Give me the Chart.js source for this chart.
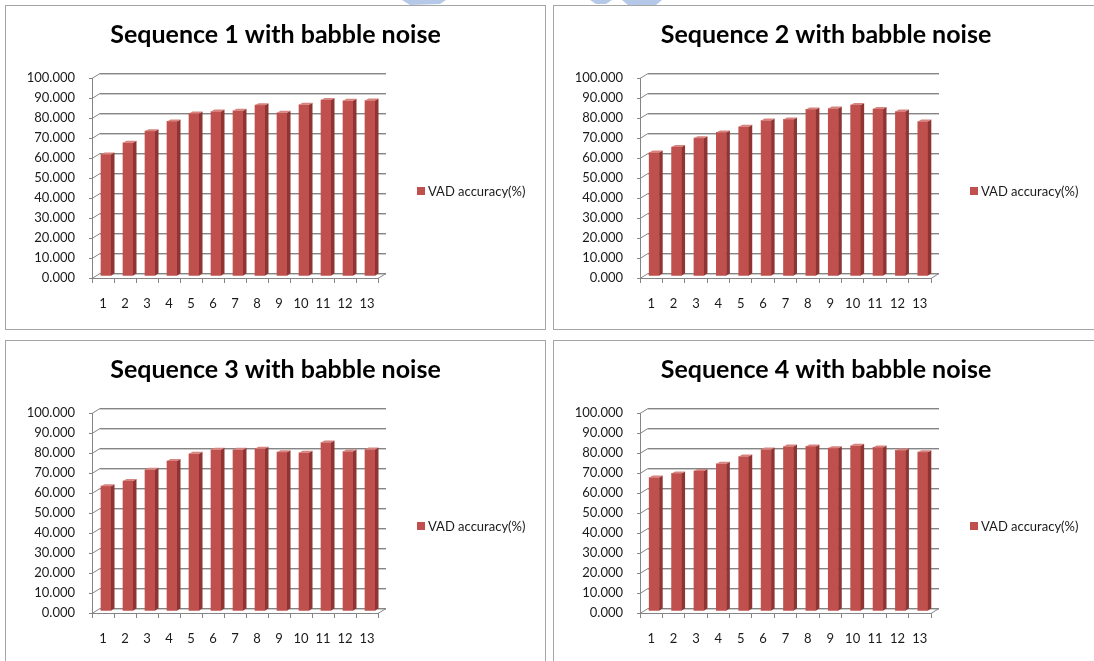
<!DOCTYPE html>
<html>
<head>
<meta charset="utf-8">
<script src="https://cdn.jsdelivr.net/npm/chart.js@4/dist/chart.umd.min.js"></script>
<style>
  html, body { margin: 0; padding: 0; background: #fff; }
  body { position: relative; width: 1094px; height: 661px; overflow: hidden; }
  .panel { position: absolute; box-sizing: border-box; border: 1px solid #a5a5a5; background: #fff; }
  .panel canvas { display: block; }
  .mark { position: absolute; top: 0; left: 0; }
</style>
</head>
<body>
<svg class="mark" width="1094" height="8">
  <polygon points="402,0 446,0 440,4 410,5" fill="#b6c8e8"/>
  <polygon points="590,0 612,0 606,4 596,4" fill="#b6c8e8"/>
  <polygon points="622,0 662,0 656,5 628,5" fill="#b6c8e8"/>
</svg>
<div class="panel" style="left:5px;top:5px;width:541px;height:325px"><canvas id="c1" width="539" height="323"></canvas></div>
<div class="panel" style="left:553px;top:5px;width:546px;height:325px"><canvas id="c2" width="544" height="323"></canvas></div>
<div class="panel" style="left:5px;top:340px;width:541px;height:325px"><canvas id="c3" width="539" height="323"></canvas></div>
<div class="panel" style="left:553px;top:340px;width:546px;height:325px"><canvas id="c4" width="544" height="323"></canvas></div>
<script>
// Frame index along the x axis
const categories = ['1', '2', '3', '4', '5', '6', '7', '8', '9', '10', '11', '12', '13'];

// VAD accuracy (%) per frame for each test sequence
const seq1 = [60.8, 66.6, 72.4, 77.3, 81.3, 82.2, 82.6, 85.4, 81.6, 85.6, 88.0, 87.6, 87.7];
const seq2 = [61.7, 64.5, 68.9, 71.8, 74.6, 77.7, 78.3, 83.3, 83.7, 85.5, 83.5, 82.2, 77.2];
const seq3 = [62.4, 65.0, 70.6, 75.0, 78.6, 80.6, 80.6, 81.1, 79.4, 79.1, 84.2, 79.7, 80.7];
const seq4 = [66.7, 68.8, 70.0, 73.6, 77.2, 80.7, 82.2, 82.3, 81.4, 82.6, 81.8, 80.3, 79.4];

const titles = [
  'Sequence 1 with babble noise',
  'Sequence 2 with babble noise',
  'Sequence 3 with babble noise',
  'Sequence 4 with babble noise'
];
const seriesLabel = 'VAD accuracy(%)';

const FRONT = '#c0504d';
const SIDE = '#8e3533';
const TOP = '#d7837f';
const GRID = '#858585';
const GRID_SOFT = '#cccccc';
const TEXT = '#1a1a1a';

// depth of the back wall and of each column
const DX = 8, DY = -5;
const SHIFT_X = 3, SHIFT_Y = -2;
const BX = 3.5, BY = -2;

// the title spans the whole panel, not only the area left of the legend
const fullTitle = {
  id: 'fullTitle',
  beforeDraw(chart) {
    if (chart.titleBlock) {
      chart.titleBlock.left = 0;
      chart.titleBlock.right = chart.width;
    }
  }
};

// back wall, side wall and floor lines, then the column side/top faces
const depthPlugin = {
  id: 'depth3d',
  beforeDatasetsDraw(chart) {
    const { ctx, chartArea: a, scales: { y } } = chart;
    ctx.save();
    ctx.lineWidth = 1;
    y.ticks.forEach(t => {
      const py = Math.round(y.getPixelForValue(t.value)) + 0.5;
      ctx.strokeStyle = GRID_SOFT;
      ctx.beginPath();
      ctx.moveTo(a.left + DX, py + DY + 1);
      ctx.lineTo(a.right + DX, py + DY + 1);
      ctx.stroke();
      ctx.strokeStyle = GRID;
      ctx.beginPath();
      ctx.moveTo(a.left, py);
      ctx.lineTo(a.left + DX, py + DY);
      ctx.lineTo(a.right + DX, py + DY);
      ctx.stroke();
    });
    const by = Math.round(y.getPixelForValue(0)) + 0.5;
    ctx.beginPath();
    ctx.moveTo(a.right, by);
    ctx.lineTo(a.right + DX, by + DY);
    ctx.stroke();
    ctx.restore();
    ctx.save();
    ctx.translate(SHIFT_X, SHIFT_Y);
  },
  afterDatasetsDraw(chart) {
    const ctx = chart.ctx;
    chart.getDatasetMeta(0).data.forEach(bar => {
      const { x, y, base, width } = bar.getProps(['x', 'y', 'base', 'width'], true);
      const l = x - width / 2, r = x + width / 2;
      ctx.fillStyle = SIDE;
      ctx.beginPath();
      ctx.moveTo(r, y);
      ctx.lineTo(r + BX, y + BY);
      ctx.lineTo(r + BX, base + BY);
      ctx.lineTo(r, base);
      ctx.closePath();
      ctx.fill();
      ctx.fillStyle = TOP;
      ctx.beginPath();
      ctx.moveTo(l, y);
      ctx.lineTo(l + BX, y + BY);
      ctx.lineTo(r + BX, y + BY);
      ctx.lineTo(r, y);
      ctx.closePath();
      ctx.fill();
    });
    ctx.restore();
  }
};

// single-entry legend to the right of the plot
const sideLegend = {
  id: 'sideLegend',
  afterDraw(chart) {
    const { ctx, chartArea: a } = chart;
    const ds = chart.data.datasets[0];
    const x = a.right + 39, cy = 185;
    ctx.save();
    ctx.fillStyle = ds.backgroundColor;
    ctx.fillRect(x, cy - 4, 8, 8);
    ctx.fillStyle = TEXT;
    ctx.font = '13px Lato';
    ctx.textBaseline = 'middle';
    ctx.textAlign = 'left';
    ctx.fillText(ds.label, x + 11, cy + 0.5);
    ctx.restore();
  }
};

function makeChart(id, title, values) {
  return new Chart(document.getElementById(id), {
    type: 'bar',
    data: {
      labels: categories,
      datasets: [{
        label: seriesLabel,
        data: values,
        backgroundColor: FRONT,
        borderWidth: 0,
        barThickness: 10,
        clip: false
      }]
    },
    options: {
      responsive: false,
      animation: false,
      devicePixelRatio: 1,
      layout: { padding: { top: 0, right: 167, bottom: 0, left: 0 } },
      plugins: {
        legend: { display: false },
        tooltip: { enabled: false },
        title: {
          display: true,
          text: title,
          color: '#000',
          font: { family: 'Lato', size: 25, weight: 'bold', lineHeight: 1.2 },
          padding: { top: 14, bottom: 28 }
        }
      },
      scales: {
        x: {
          grid: { offset: true, drawOnChartArea: false, drawTicks: true, tickLength: 5, color: GRID },
          border: { display: true, color: GRID },
          ticks: { color: TEXT, padding: 13, font: { family: 'Lato', size: 13 }, maxRotation: 0 },
          afterFit(s) { s.height = 51; }
        },
        y: {
          min: 0,
          max: 100,
          grid: { drawOnChartArea: false, drawTicks: true, tickLength: 3, color: GRID },
          border: { display: true, color: GRID },
          ticks: {
            stepSize: 10,
            color: TEXT,
            padding: 14,
            font: { family: 'Lato', size: 13 },
            callback: v => v.toFixed(3)
          },
          afterFit(s) { s.width = 86; }
        }
      }
    },
    plugins: [fullTitle, depthPlugin, sideLegend]
  });
}

makeChart('c1', titles[0], seq1);
makeChart('c2', titles[1], seq2);
makeChart('c3', titles[2], seq3);
makeChart('c4', titles[3], seq4);
</script>
</body>
</html>
